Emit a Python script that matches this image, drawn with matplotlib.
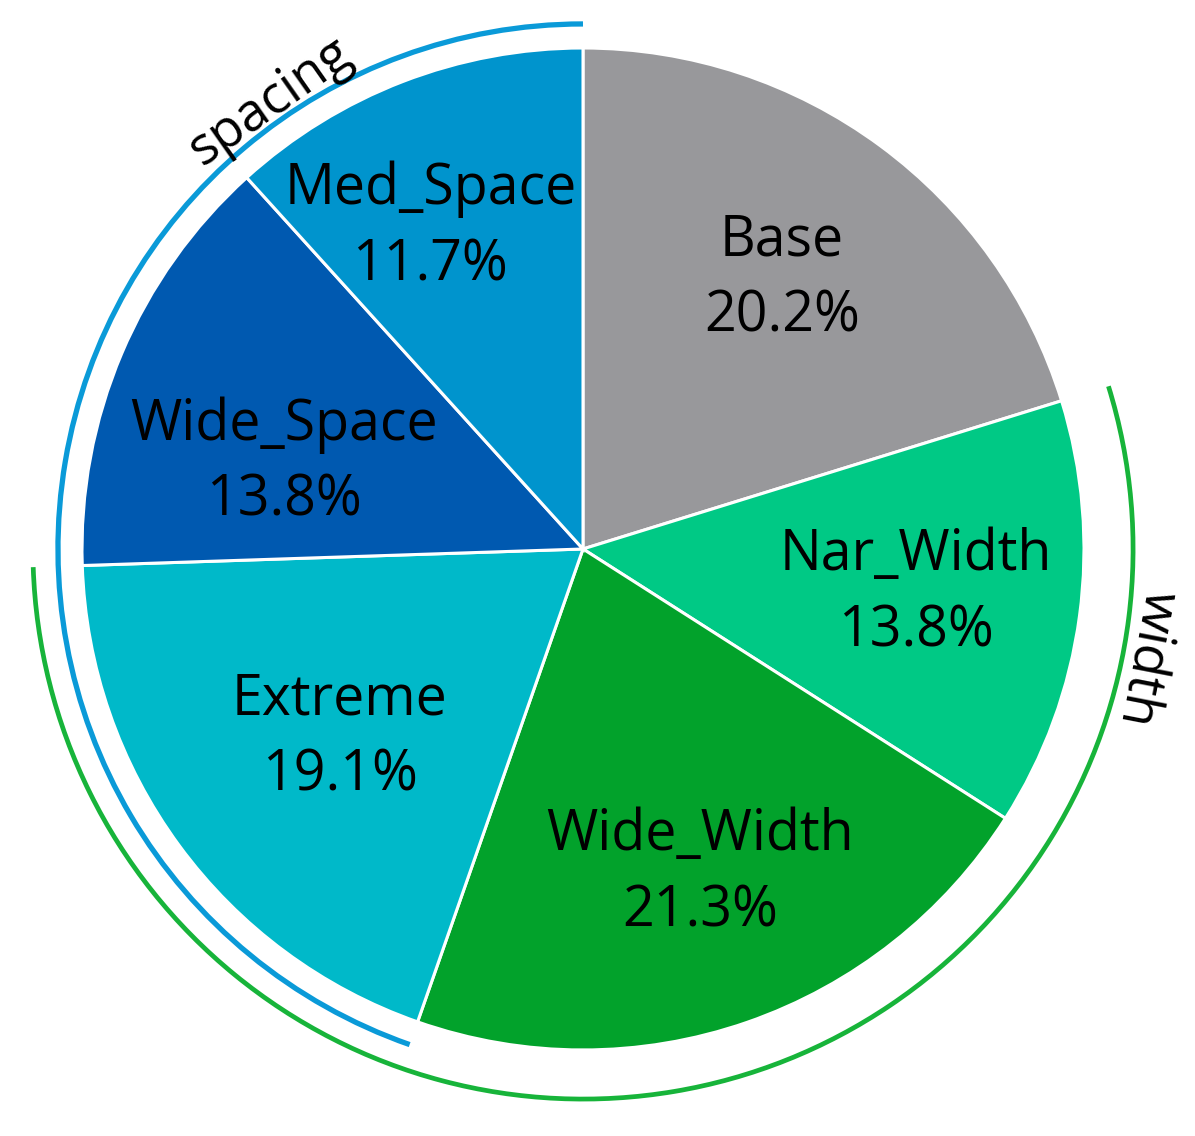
import numpy as np
import matplotlib.pyplot as plt
from matplotlib.patches import Arc

plt.rcParams['font.family'] = ['Open Sans', 'DejaVu Sans']

# Datos
categorias = ["Base", "Nar_Width", "Wide_Width", "Extreme", "Wide_Space", "Med_Space"]
porcentajes = [20.2, 13.8, 21.3, 19.1, 13.8, 11.7]
colores = ["#98989b", "#00c985", "#02a22b", "#00b9c9", "#0059b0", "#0094cd"]

# pequeños ajustes de posicion de etiquetas (pixeles)
ajustes = {"Med_Space": (-32, 8), "Wide_Space": (10, -45), "Extreme": (27, 10),
           "Wide_Width": (7, -8)}

fig = plt.figure(figsize=(11.95, 11.36), dpi=100)
ax = fig.add_axes([0, 0, 1, 1])

etiquetas = [f"{c}\n{p}%" for c, p in zip(categorias, porcentajes)]
wedges, textos = ax.pie(porcentajes, labels=etiquetas, colors=colores, startangle=90,
                        counterclock=False, labeldistance=0.67, radius=1,
                        wedgeprops=dict(edgecolor="white", linewidth=2.2),
                        textprops=dict(fontsize=40, ha="center", va="center",
                                       linespacing=1.45, color="black"))
R = 501.0  # pixeles por unidad de radio
for c, t in zip(categorias, textos):
    t.set_horizontalalignment("center")
    dx, dy = ajustes.get(c, (0, 0))
    x, y = t.get_position()
    t.set_position((x + dx / R, y + dy / R))

ang = {c: (w.theta1, w.theta2) for c, w in zip(categorias, wedges)}

# spacing: Extreme, Wide_Space, Med_Space
ax.add_patch(Arc((0, 0), 2 * 1.048, 2 * 1.048, theta1=90, theta2=ang["Extreme"][1] % 360,
                 color="#0a9ad8", lw=3.8))
# width: Nar_Width, Wide_Width, Extreme
ax.add_patch(Arc((0, 0), 2 * 1.098, 2 * 1.098, theta1=ang["Extreme"][0] % 360,
                 theta2=ang["Nar_Width"][1] % 360, color="#17b43a", lw=3.4))

a = np.deg2rad(125)
ax.text(1.09 * np.cos(a), 1.09 * np.sin(a), "spacing", fontsize=38,
        rotation=35, ha="center", va="center", rotation_mode="anchor")
a = np.deg2rad(-11)
ax.text(1.145 * np.cos(a), 1.145 * np.sin(a), "width", fontsize=38,
        rotation=-101, ha="center", va="center", rotation_mode="anchor")

ax.set_xlim(-1.1637, 1.2216)
ax.set_ylim(-1.1717, 1.0958)
ax.set_aspect("equal")
ax.axis("off")
plt.savefig("out.png", dpi=100)
